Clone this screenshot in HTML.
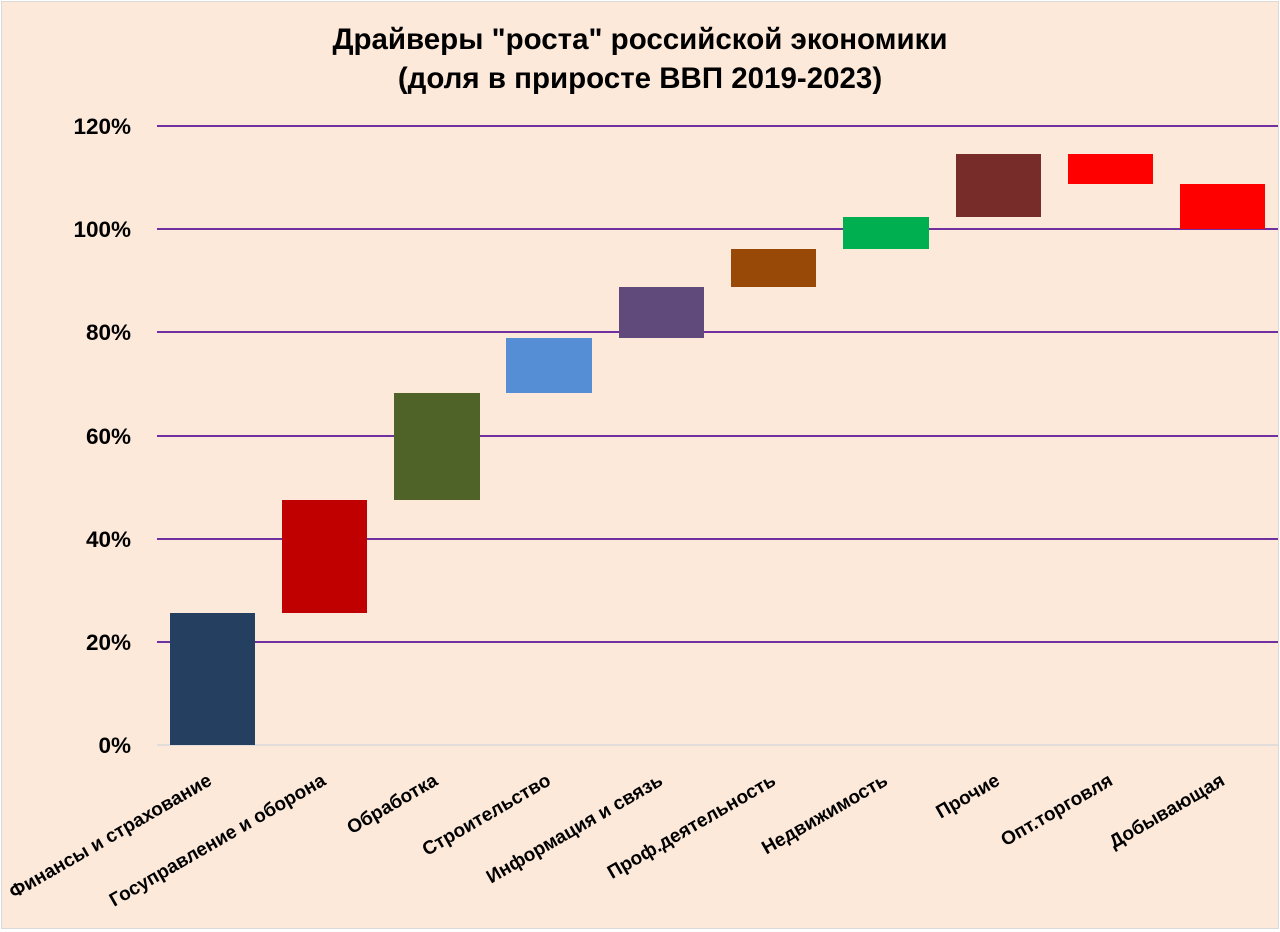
<!DOCTYPE html>
<html><head><meta charset="utf-8"><style>
html,body{margin:0;padding:0;background:#fff}
svg{display:block}
text{font-family:"Liberation Sans","DejaVu Sans",sans-serif;font-weight:bold;fill:#000}
</style></head><body>
<svg width="1280" height="932" viewBox="0 0 1280 932" xmlns="http://www.w3.org/2000/svg">
<rect x="1.5" y="1.5" width="1277" height="927" fill="#FCE9DA" stroke="#d9d9d9" stroke-width="1"/>
<text x="640" y="49" font-size="29.5" text-anchor="middle">Драйверы "роста" российской экономики</text>
<text x="640" y="88" font-size="29.5" text-anchor="middle">(доля в приросте ВВП 2019-2023)</text>
<g stroke="#7030A0" stroke-width="2">
<line x1="157" y1="126" x2="1278" y2="126"/>
<line x1="157" y1="229" x2="1278" y2="229"/>
<line x1="157" y1="332" x2="1278" y2="332"/>
<line x1="157" y1="436" x2="1278" y2="436"/>
<line x1="157" y1="539" x2="1278" y2="539"/>
<line x1="157" y1="642" x2="1278" y2="642"/>
</g>
<line x1="157" y1="745" x2="1278" y2="745" stroke="#d9d9d9" stroke-width="1.5"/>
<g font-size="22.5" text-anchor="end">
<text x="131" y="134">120%</text>
<text x="131" y="237">100%</text>
<text x="131" y="340">80%</text>
<text x="131" y="444">60%</text>
<text x="131" y="547">40%</text>
<text x="131" y="650">20%</text>
<text x="131" y="753">0%</text>
</g>
<rect x="170" y="613" width="85" height="132" fill="#243F60"/>
<rect x="282" y="500" width="85" height="113" fill="#C00000"/>
<rect x="394" y="393" width="86" height="107" fill="#4F6228"/>
<rect x="506" y="338" width="86" height="55" fill="#558ED5"/>
<rect x="619" y="287" width="85" height="51" fill="#604A7B"/>
<rect x="731" y="249" width="85" height="38" fill="#984807"/>
<rect x="843" y="217" width="86" height="32" fill="#00B050"/>
<rect x="956" y="154" width="85" height="63" fill="#772C2A"/>
<rect x="1068" y="154" width="85" height="30" fill="#FF0000"/>
<rect x="1180" y="184" width="85" height="45" fill="#FF0000"/>
<g font-size="19" text-anchor="end">
<text transform="translate(213,784) rotate(-30)">Финансы и страхование</text>
<text transform="translate(327,784) rotate(-30)">Госуправление и оборона</text>
<text transform="translate(439,784) rotate(-30)">Обработка</text>
<text transform="translate(552,784) rotate(-30)">Строительство</text>
<text transform="translate(664,784) rotate(-30)">Информация и связь</text>
<text transform="translate(777,784) rotate(-30)">Проф.деятельность</text>
<text transform="translate(889,784) rotate(-30)">Недвижимость</text>
<text transform="translate(1001,784) rotate(-30)">Прочие</text>
<text transform="translate(1114,784) rotate(-30)">Опт.торговля</text>
<text transform="translate(1226,784) rotate(-30)">Добывающая</text>
</g>
</svg>
</body></html>
